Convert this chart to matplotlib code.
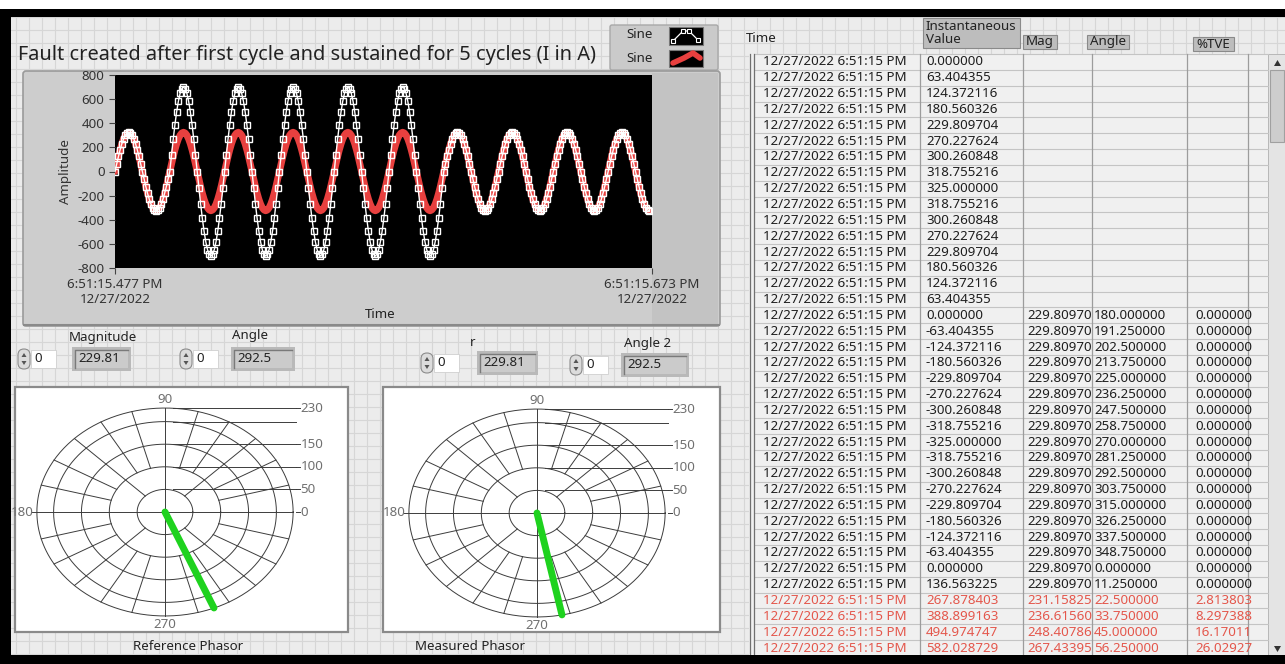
import numpy as np
import matplotlib
matplotlib.use("Agg")
import matplotlib.pyplot as plt
from matplotlib.patches import Rectangle, FancyBboxPatch, Polygon

plt.rcParams['font.family'] = ['Noto Sans', 'DejaVu Sans']
plt.rcParams['axes.unicode_minus'] = False

W, H = 1285, 664

# ---------------- data ----------------
title = "Fault created after first cycle and sustained for 5 cycles (I in A)"
t_start = 15.477          # seconds after 6:51 PM
t_end = 15.673
t_labels = ["6:51:15.477 PM\n12/27/2022", "6:51:15.673 PM\n12/27/2022"]
samples_per_cycle = 32
sample_dt = 0.02 / samples_per_cycle
n_samples = 313

# one cycle of the 325 A reference current (first 32 rows of the table)
ref_cycle = [0.000000, 63.404355, 124.372116, 180.560326, 229.809704, 270.227624,
             300.260848, 318.755216, 325.000000, 318.755216, 300.260848, 270.227624,
             229.809704, 180.560326, 124.372116, 63.404355, 0.000000, -63.404355,
             -124.372116, -180.560326, -229.809704, -270.227624, -300.260848,
             -318.755216, -325.000000, -318.755216, -300.260848, -270.227624,
             -229.809704, -180.560326, -124.372116, -63.404355]
ref_peak = 325.0
# peak of every cycle of the measured current, fault in cycles 2-6
measured_peaks = [325, 700, 700, 700, 700, 700, 325, 325, 325, 325]

# phasor panels
controls = [("Magnitude", "229.81"), ("Angle", "292.5"), ("r", "229.81"), ("Angle 2", "292.5")]
reference_phasor = (229.81, 292.5)
measured_phasor = (229.81, 281.25)
rings = [50, 100, 150, 200, 230]
ring_labels = {0: "0", 50: "50", 100: "100", 150: "150", 230: "230"}

# table
table_time = "12/27/2022 6:51:15 PM"
inst_values = ref_cycle + [0.000000, 136.563225, 267.878403, 388.899163, 494.974747, 582.028729]
mag_values = [""] * 16 + ["229.80970"] * 18 + ["231.15825", "236.61560", "248.40786", "267.43395"]
angle_values = [None] * 16 + [180.0, 191.25, 202.5, 213.75, 225.0, 236.25, 247.5, 258.75,
                              270.0, 281.25, 292.5, 303.75, 315.0, 326.25, 337.5, 348.75,
                              0.0, 11.25, 22.5, 33.75, 45.0, 56.25]
tve_values = [""] * 16 + ["0.000000"] * 18 + ["2.813803", "8.297388", "16.17011", "26.02927"]
n_black_rows = 34

# ---------------- figure & pixel background ----------------
fig = plt.figure(figsize=(W / 100, H / 100), dpi=100)
bg = fig.add_axes([0, 0, 1, 1])
bg.set_xlim(0, W)
bg.set_ylim(H, 0)
bg.axis('off')
renderer = fig.canvas.get_renderer()


def fit(text, target, size=10, **kw):
    t = fig.text(0, 0, text, fontsize=size, **kw)
    w = t.get_window_extent(renderer).width
    t.remove()
    return size * target / w


def rect(x0, y0, x1, y1, **kw):
    bg.add_patch(Rectangle((x0, y0), x1 - x0, y1 - y0, **kw))


rect(0, 0, W, H, fc='white', ec='none', zorder=0)
rect(3, 17, W, 656, fc='#ececec', ec='none', zorder=0.1)
for gx in np.arange(3, W, 13):
    bg.plot([gx, gx], [17, 656], color='#d6d6d6', lw=0.8, zorder=0.5)
for gy in np.arange(17, 656, 13):
    bg.plot([3, W], [gy, gy], color='#d6d6d6', lw=0.8, zorder=0.5)
rect(0, 9, W, 17, fc='black', ec='none', zorder=3)
rect(0, 9, 11, H, fc='black', ec='none', zorder=3)
rect(0, 655, W, H, fc='black', ec='none', zorder=3)

fs_title = fit(title, 577, 14)
fs_tab = fit(table_time, 143, 9)
fs_tick = fit("6:51:15.477 PM", 95, 9)
fs_lab = fit("Reference Phasor", 110, 9)

bg.text(18, 55, title, fontsize=fs_title, color='#222222', va='center', ha='left')

# legend box
bg.add_patch(FancyBboxPatch((610, 25), 108, 45, boxstyle="round,pad=0,rounding_size=2",
                            fc='#cacaca', ec='#a8a8a8', lw=1))
bg.text(640, 35, "Sine", fontsize=fs_lab, ha='center', va='center', color='#222')
bg.text(640, 58, "Sine", fontsize=fs_lab, ha='center', va='center', color='#222')
rect(669, 27, 703, 45, fc='black', ec='#777', lw=0.8)
bg.plot([673, 683, 689, 698], [41, 31, 31, 40], color='white', lw=0.9,
        marker='s', ms=3.5, mfc='black', mec='white', mew=0.8)
rect(669, 50, 703, 67, fc='black', ec='#777', lw=0.8)
bg.plot([673, 684, 693, 700], [63, 58, 53, 58], color='#e8403f', lw=4, solid_capstyle='round')

# waveform panel
bg.add_patch(FancyBboxPatch((23, 71), 697, 255, boxstyle="round,pad=0,rounding_size=3",
                            fc='#cdcdcd', ec='#9a9a9a', lw=1.2))
rect(652, 73, 718, 324, fc='#c3c3c3', ec='none')
bg.plot([24, 719], [325, 325], color='#8a8a8a', lw=1.5)

cycle = np.array(ref_cycle) / ref_peak
reference = np.tile(np.array(ref_cycle), len(measured_peaks))[:n_samples]
measured = np.concatenate([cycle * p for p in measured_peaks])[:n_samples]
t = t_start + np.arange(n_samples) * sample_dt

ax = fig.add_axes([115 / W, 1 - 268 / H, 537 / W, 193 / H])
ax.set_facecolor('black')
ax.plot(t, reference, color='#e8403f', lw=5, solid_capstyle='round')
ax.plot(t, measured, color='white', lw=1, marker='s', ms=5, mfc='none', mec='white', mew=1)
ax.set_xlim(t_start, t_end)
ax.set_ylim(-800, 800)
ax.set_yticks(np.arange(-800, 801, 200))
ax.set_xticks([t_start, t_end])
ax.set_xticklabels(t_labels)
ax.tick_params(colors='#444444', labelcolor='#333333', labelsize=fs_tick, length=4, width=0.8)
ax.tick_params(axis='x', pad=3)
for s in ax.spines.values():
    s.set_visible(False)
ax.set_ylabel("Amplitude", fontsize=fs_tick, color='#333', labelpad=4)
bg.text(380, 315, "Time", fontsize=fs_tick, ha='center', va='center', color='#222')

# numeric controls and indicators
ctl_pos = [(24, 359, 72, 131, 103, 337), (186, 359, 231, 295, 250, 336),
           (427, 363, 477, 538, 473, 342), (576, 365, 621, 689, 648, 343)]
for (label, value), (sx, cy, ix0, ix1, lx, ly) in zip(controls, ctl_pos):
    bg.add_patch(FancyBboxPatch((sx - 6, cy - 10), 12, 20, boxstyle="round,pad=0,rounding_size=6",
                                fc='#dcdcdc', ec='#8c8c8c', lw=0.8))
    bg.add_patch(Polygon([[sx - 2.5, cy - 2], [sx + 2.5, cy - 2], [sx, cy - 6]], fc='#555', ec='none'))
    bg.add_patch(Polygon([[sx - 2.5, cy + 2], [sx + 2.5, cy + 2], [sx, cy + 6]], fc='#555', ec='none'))
    rect(sx + 7, cy - 9, sx + 32, cy + 9, fc='white', ec='#cfcfcf', lw=0.6)
    bg.text(sx + 10, cy, "0", fontsize=fs_lab, va='center', color='#222')
    rect(ix0, cy - 12, ix1, cy + 12, fc='#b9b9b9', ec='none')
    rect(ix0 + 3, cy - 9, ix1 - 3, cy + 9, fc='#cbcbcb', ec='none')
    bg.plot([ix0 + 3, ix0 + 3, ix1 - 3], [cy + 9, cy - 9, cy - 9], color='#7a7a7a', lw=1)
    bg.text(ix0 + 6, cy, value, fontsize=fs_lab, va='center', color='#222')
    bg.text(lx, ly, label, fontsize=fs_lab, ha='center', va='center', color='#222')

# phasor graphs
SX, SY = 0.557, 0.452


def phasor(box, center, mag_ang, name, name_x):
    x0, y0, x1, y1 = box
    cx, cy = center
    rect(x0, y0, x1, y1, fc='white', ec='#8a8a8a', lw=1.6)
    bg.text(name_x, 647, name, fontsize=fs_lab, ha='center', va='center', color='#222')
    pa = fig.add_axes([x0 / W, 1 - y1 / H, (x1 - x0) / W, (y1 - y0) / H])
    pa.set_xlim((x0 - cx) / SX, (x1 - cx) / SX)
    pa.set_ylim((cy - y1) / SY, (cy - y0) / SY)
    pa.axis('off')
    gc = dict(color='#3c3c3c', lw=0.7)
    th = np.linspace(0, 2 * np.pi, 361)
    for r in rings:
        pa.plot(r * np.cos(th), r * np.sin(th), **gc)
    rmax = rings[-1]
    pa.plot([-rmax, rmax], [0, 0], **gc)
    pa.plot([0, 0], [-rmax, rmax], **gc)
    for deg in range(0, 360, 15):
        if deg % 90 == 0:
            continue
        r0 = rings[0] if deg % 45 == 0 else rings[1]
        a = np.radians(deg)
        pa.plot([r0 * np.cos(a), rmax * np.cos(a)], [r0 * np.sin(a), rmax * np.sin(a)], **gc)
    for r in rings:
        pa.plot([14, 236], [r, r], **gc)
    for r, s in ring_labels.items():
        pa.plot([236, 242], [r, r], **gc)
        pa.text(243, r, s, fontsize=fs_lab, color='#707070', va='center', ha='left')
    pa.text(0, rmax + 4, "90", fontsize=fs_lab, color='#707070', ha='center', va='bottom')
    pa.text(0, -rmax - 4, "270", fontsize=fs_lab, color='#707070', ha='center', va='top')
    pa.plot([-rmax - 8, -rmax], [0, 0], **gc)
    pa.text(-rmax - 6, 0, "180", fontsize=fs_lab, color='#707070', ha='right', va='center')
    m, ang = mag_ang
    a = np.radians(ang)
    pa.plot([0, m * np.cos(a)], [0, m * np.sin(a)], color='#1ed21e', lw=5, solid_capstyle='round')


phasor((15, 387, 348, 632), (165, 512), reference_phasor, "Reference Phasor", 188)
phasor((383, 387, 720, 632), (537, 513), measured_phasor, "Measured Phasor", 470)

# table header
bg.text(746, 38, "Time", fontsize=fs_tab, va='center', color='#222')
rect(923, 18, 1020, 48, fc='#bdbdbd', ec='#8a8a8a', lw=0.8)
bg.text(926, 33, "Instantaneous\nValue", fontsize=fs_tab, va='center', color='#222', linespacing=1.05)
for lab, (hx0, hy0, hx1, hy1) in zip(["Mag", "Angle", "%TVE"],
                                      [(1023, 35, 1057, 49), (1087, 35, 1129, 49), (1193, 37, 1234, 51)]):
    rect(hx0, hy0, hx1, hy1, fc='#bdbdbd', ec='#8a8a8a', lw=0.8)
    bg.text(hx0 + 3, (hy0 + hy1) / 2, lab, fontsize=fs_tab, va='center', color='#222')

# table body
top, rh = 54, 15.84
bottom = top + rh * len(inst_values)
rect(749, top, 1268, bottom, fc='#f0f0f0', ec='none')
for i in range(len(inst_values) + 1):
    bg.plot([755, 1268], [top + i * rh] * 2, color='#c4c4c4', lw=0.8)
for cx in [920, 1023, 1092, 1187, 1248]:
    bg.plot([cx, cx], [top, bottom], color='#9c9c9c', lw=0.9)
for cx in [750, 754]:
    bg.plot([cx, cx], [top, bottom], color='#707070', lw=0.9)
for i in range(len(inst_values)):
    yc = top + (i + 0.5) * rh
    col = '#1e1e1e' if i < n_black_rows else '#e4574c'
    bg.text(763, yc, table_time, fontsize=fs_tab, va='center', color=col)
    bg.text(926, yc, f"{inst_values[i]:.6f}", fontsize=fs_tab, va='center', color=col)
    bg.text(1027, yc, mag_values[i], fontsize=fs_tab, va='center', color=col)
    if angle_values[i] is not None:
        bg.text(1094, yc, f"{angle_values[i]:.6f}", fontsize=fs_tab, va='center', color=col)
    bg.text(1195, yc, tve_values[i], fontsize=fs_tab, va='center', color=col)

# scrollbar
rect(1268, top, W, bottom, fc='#e4e4e4', ec='#b0b0b0', lw=0.6)
rect(1270, 70, 1284, 142, fc='#cdcdcd', ec='#a0a0a0', lw=0.8)
bg.add_patch(Polygon([[1274, 66], [1281, 66], [1277.5, 60]], fc='#333', ec='none'))
bg.add_patch(Polygon([[1274, 646], [1281, 646], [1277.5, 652]], fc='#333', ec='none'))

fig.savefig("out.png", dpi=100)
